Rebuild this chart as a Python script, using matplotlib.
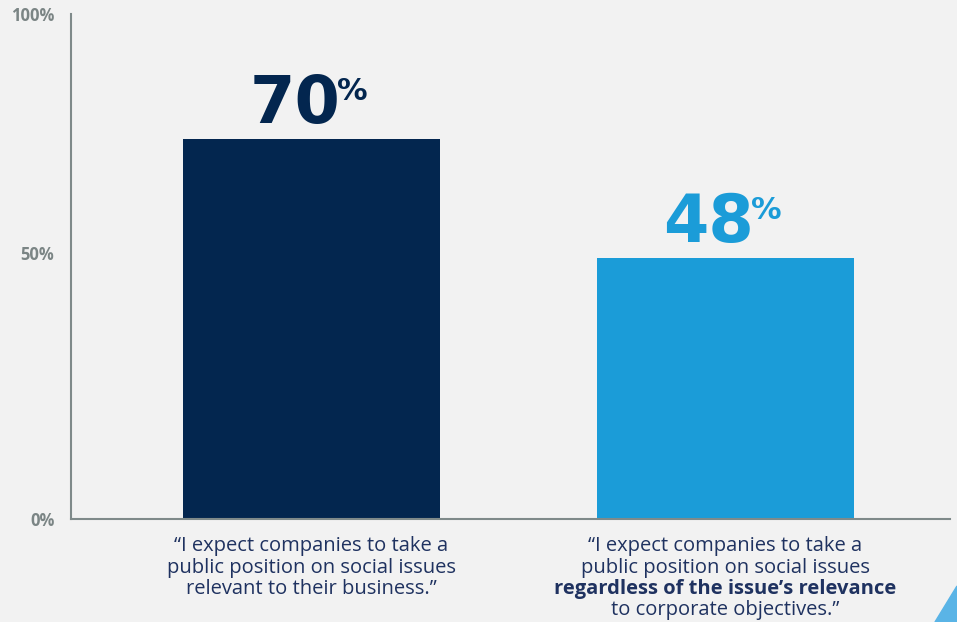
#!/usr/bin/python3
# -*- coding: utf-8 -*-

import matplotlib
matplotlib.use("Agg")
import matplotlib.pyplot as plt
from matplotlib.patches import Polygon

# data
values = [70, 48]
value_labels = ["70", "48"]
bar_colors = ["#03264f", "#1b9cd8"]
tick_pos = [0, 49, 93]
tick_labels = ["0%", "50%", "100%"]
# each category label as lines of (text, weight)
cat_lines = [
    [("\u201cI expect companies to take a", "normal"),
     ("public position on social issues", "normal"),
     ("relevant to their business.\u201d", "normal")],
    [("\u201cI expect companies to take a", "normal"),
     ("public position on social issues", "normal"),
     ("regardless of the issue\u2019s relevance", "bold"),
     ("to corporate objectives.\u201d", "normal")],
]

BG = "#f2f2f2"
AXIS = "#7f8a8a"
TXT = "#1f3260"


def save_img():
    plt.rcParams["font.family"] = ["Open Sans", "DejaVu Sans"]
    fig = plt.figure(figsize=(9.57, 6.22), dpi=100, facecolor=BG)
    ax = fig.add_axes([71 / 957, 1 - 519 / 622, 879 / 957, 505 / 622])
    ax.set_facecolor(BG)

    x = list(range(len(values)))
    ax.bar(x, values, width=0.62, color=bar_colors)
    ax.set_xlim(-0.581, 1.543)
    ax.set_ylim(0, 93)

    for s in ["top", "right"]:
        ax.spines[s].set_visible(False)
    for s in ["left", "bottom"]:
        ax.spines[s].set_color(AXIS)
        ax.spines[s].set_linewidth(1.5)
    ax.set_xticks([])
    ax.set_yticks(tick_pos)
    ax.set_yticklabels(tick_labels, fontsize=12, fontweight="bold",
                       color="#7b8585")
    ax.tick_params(axis="y", length=0, pad=12)

    # value labels with superscript %
    for i, (v, lab, c) in enumerate(zip(values, value_labels, bar_colors)):
        ax.annotate(lab, xy=(i, v), xytext=(29, 16),
                    textcoords="offset pixels", ha="right", va="baseline",
                    fontsize=47, fontweight="bold", color=c,
                    family="DejaVu Sans")
        ax.annotate("%", xy=(i, v), xytext=(26, 39),
                    textcoords="offset pixels", ha="left", va="baseline",
                    fontsize=22, fontweight="bold", color=c,
                    family="DejaVu Sans")

    # category labels
    for i, lines in enumerate(cat_lines):
        for j, (t, w) in enumerate(lines):
            ax.annotate(t, xy=(i, 0), xycoords=("data", "axes fraction"),
                        xytext=(0, -32 - 21.5 * j),
                        textcoords="offset pixels", ha="center",
                        va="baseline", fontsize=14.5, fontweight=w,
                        color=TXT)

    # corner decoration
    tri = Polygon([(1.0, 0.0), (1.0, 36 / 622), (935 / 957, 0.0)],
                  closed=True, transform=fig.transFigure,
                  color="#5ab4e6", zorder=0)
    fig.patches.append(tri)

    fig.savefig("out.png", dpi=100, facecolor=BG)


def main():
    save_img()


if __name__ == '__main__':
    main()
